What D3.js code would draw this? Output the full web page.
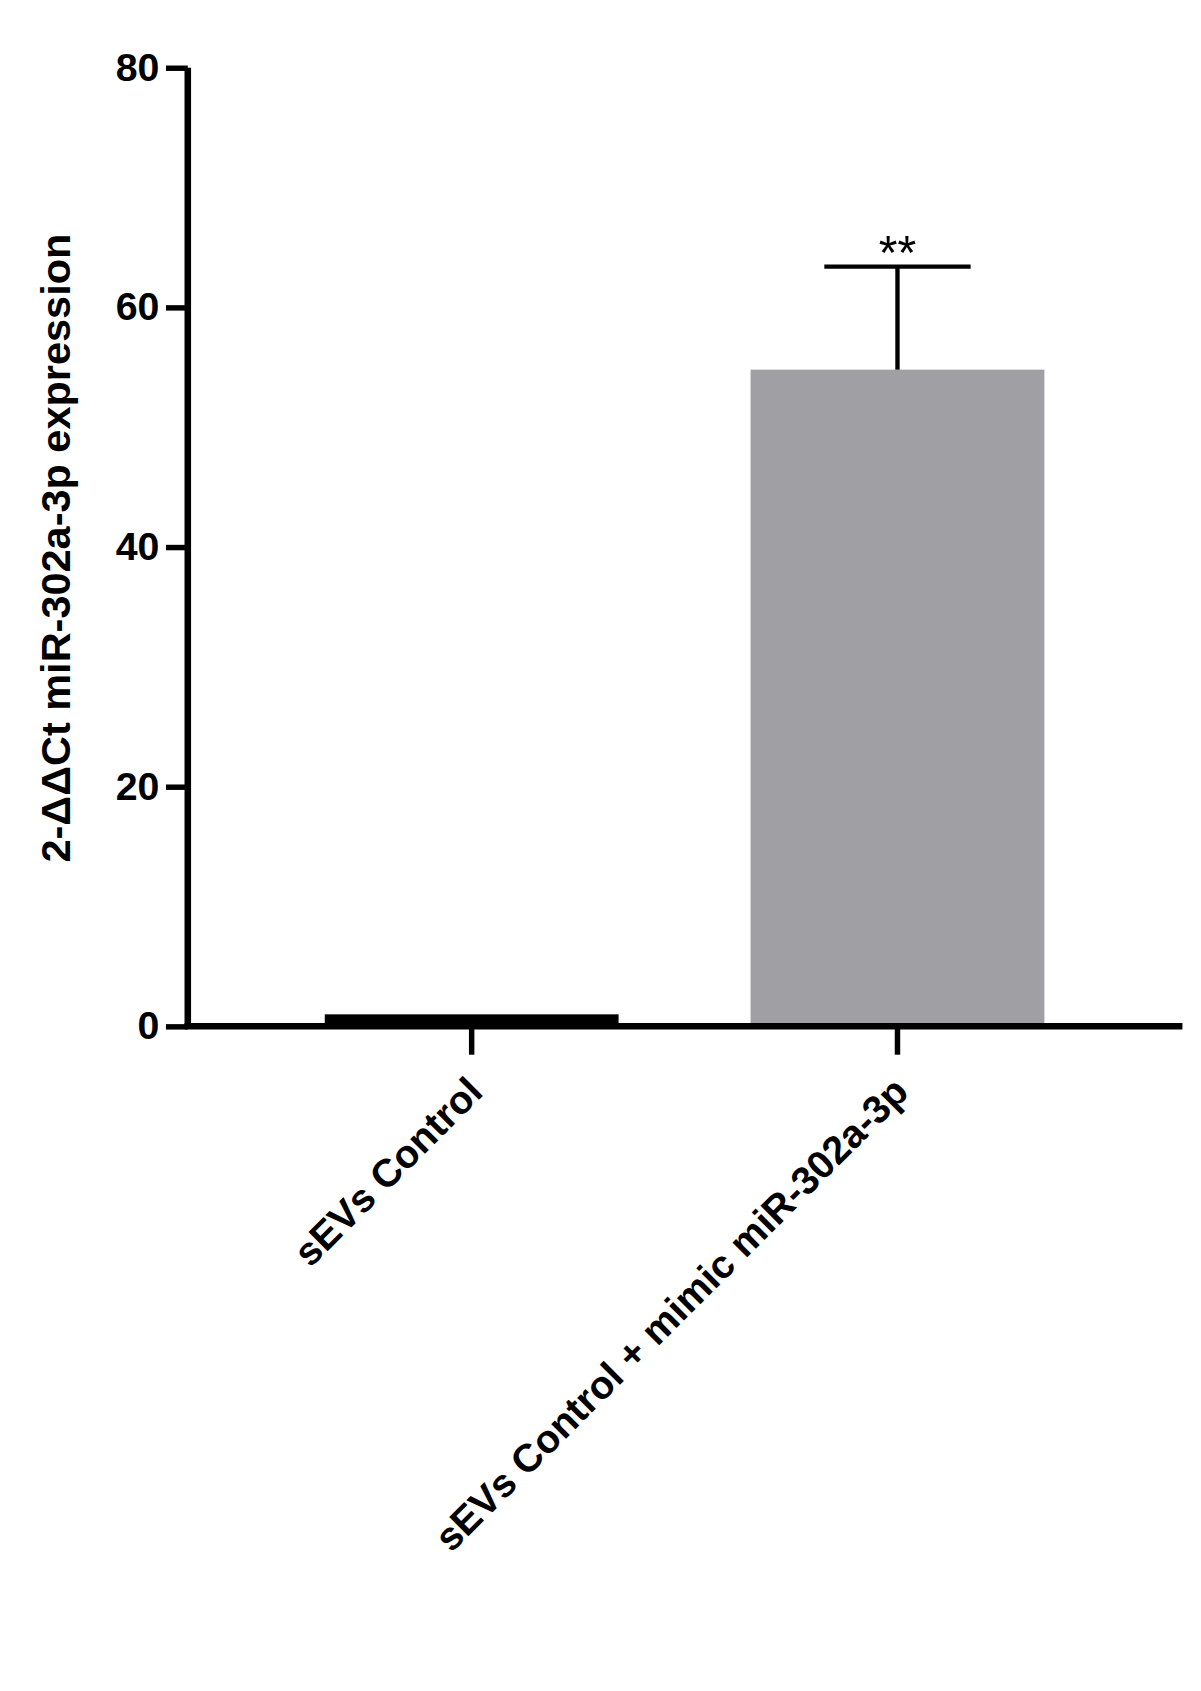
<!DOCTYPE html>
<html><head><meta charset="utf-8">
<script src="https://cdn.jsdelivr.net/npm/d3@7"></script>
<style>body{margin:0;background:#fff}</style>
</head><body>
<svg id="c" width="1201" height="1691"></svg>
<script>
const categories = ["sEVs Control", "sEVs Control + mimic miR-302a-3p"];
const means = [1, 54.8];
const errors = [0, 8.6];
const colors = ["#000000", "#a09fa4"];
const signif = ["", "**"];
const yTicks = [0, 20, 40, 60, 80];

const root = d3.select("#c").append("g").attr("transform", "scale(" + (1201/1100) + ")");
const svg = root;
const font = "Liberation Sans, Arial, sans-serif";
const y = d3.scaleLinear().domain([0, 80]).range([940, 62]);
const x = d3.scaleBand().domain(categories).range([237, 1017]).paddingInner(0.31).paddingOuter(0.155);

const g = svg.append("g");
g.selectAll("rect.bar").data(categories).enter().append("rect")
  .attr("x", d => x(d)).attr("width", x.bandwidth())
  .attr("y", (d,i) => y(means[i])).attr("height", (d,i) => y(0) - y(means[i]))
  .attr("fill", (d,i) => colors[i]);

categories.forEach((d,i) => {
  if (!errors[i]) return;
  const cx = x(d) + x.bandwidth()/2;
  g.append("line").attr("x1", cx).attr("x2", cx).attr("y1", y(means[i])).attr("y2", y(means[i]+errors[i]))
    .attr("stroke", "#000").attr("stroke-width", 4);
  g.append("line").attr("x1", cx-67).attr("x2", cx+67).attr("y1", y(means[i]+errors[i])).attr("y2", y(means[i]+errors[i]))
    .attr("stroke", "#000").attr("stroke-width", 4);
  g.append("text").attr("x", cx).attr("y", y(means[i]+errors[i]) + 2).attr("text-anchor", "middle")
    .attr("font-family", font).attr("font-size", 44).text(signif[i]);
});

const ya = svg.append("g").attr("transform", "translate(172,0)")
  .call(d3.axisLeft(y).tickValues(yTicks).tickSize(20).tickPadding(6));
ya.select(".domain").attr("stroke-width", 6).attr("d", "M0,62V940");
ya.selectAll(".tick line").attr("stroke-width", 5);
ya.selectAll(".tick text").attr("font-family", font).attr("font-size", 36).attr("font-weight", "bold").attr("fill", "#000");

const xa = svg.append("g").attr("transform", "translate(0,940)")
  .call(d3.axisBottom(x).tickSize(26).tickPadding(0));
xa.select(".domain").attr("stroke-width", 6).attr("d", "M169,0H1083");
xa.selectAll(".tick line").attr("stroke-width", 5);
xa.selectAll(".tick text").attr("font-family", font).attr("font-size", 36).attr("font-weight", "bold").attr("fill", "#000")
  .attr("text-anchor", "end").attr("dy", 0).attr("y", 0)
  .attr("transform", "translate(12,62) rotate(-45)");

svg.append("text").attr("transform", "translate(64,502) rotate(-90)").attr("text-anchor", "middle")
  .attr("font-family", font).attr("font-size", 38).attr("font-weight", "bold").text("2-ΔΔCt miR-302a-3p expression");
</script>
</body></html>
